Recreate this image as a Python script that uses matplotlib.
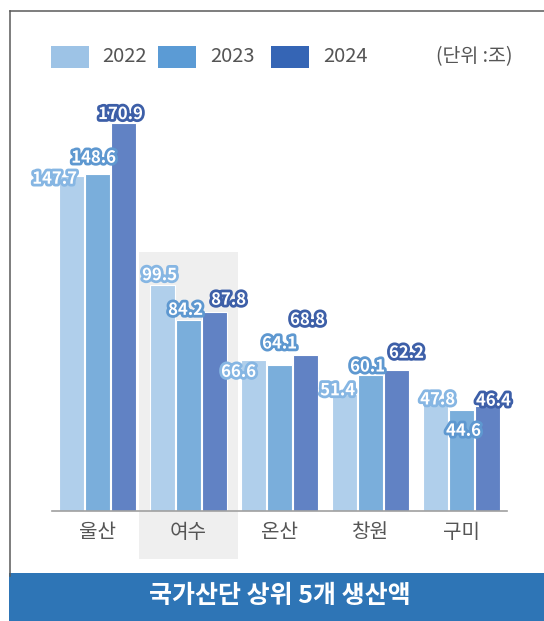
import matplotlib
matplotlib.use("Agg")
import matplotlib.pyplot as plt
import matplotlib.patheffects as pe
from matplotlib.patches import Rectangle
from matplotlib.lines import Line2D
import numpy as np

plt.rcParams['font.family'] = ['Noto Sans CJK KR', 'DejaVu Sans']

# data
categories = ["울산", "여수", "온산", "창원", "구미"]
years = ["2022", "2023", "2024"]
v2022 = [147.7, 99.5, 66.6, 51.4, 47.8]
v2023 = [148.6, 84.2, 64.1, 60.1, 44.6]
v2024 = [170.9, 87.8, 68.8, 62.2, 46.4]
series = [v2022, v2023, v2024]

title = "국가산단 상위 5개 생산액"
unit = "(단위 :조)"

# styles
legend_colors = ["#9dc3e6", "#5b9bd5", "#3565b5"]
bar_colors = ["#b0cfeb", "#7aaedb", "#6182c4"]
stroke_colors = ["#86b6e3", "#5e98d0", "#3d5fa8"]

# label offsets in pixels (dx, dy) per series, per category
label_offsets = [
    [(-17, -3), (-3, 10), (-15, -12), (-7, 4), (2, 3)],
    [(-4, 16), (-3, 10), (0, 22), (-3, 8), (2, -21)],
    [(-3, 9), (14, 12), (2, 35), (10, 17), (6, 5)],
]

W, H = 544, 621
fig = plt.figure(figsize=(W / 100, H / 100), dpi=100)


def fx(px):
    return px / W


def fy(py):
    return 1 - py / H


# plot area: baseline at y=511px, 2.27 px per unit
ax_top, ax_bot = 80, 511
scale = 2.27
ax = fig.add_axes([fx(52), fy(ax_bot), fx(507) - fx(52), (ax_bot - ax_top) / H])
ax.set_facecolor("none")
ax.set_xlim(-0.5, 4.5)
ax.set_ylim(0, (ax_bot - ax_top) / scale)

x = np.arange(len(categories))
offs = [-0.285, 0, 0.285]
width = 0.27

# highlight behind 여수
hl = Rectangle((1 - 0.545, -48 / scale), 1.09, (559 - 251.5) / scale,
               facecolor="#efefef", edgecolor="none", zorder=0, clip_on=False)
ax.add_patch(hl)

for i, vals in enumerate(series):
    ax.bar(x + offs[i], vals, width, color=bar_colors[i], edgecolor="white",
           linewidth=0.8, zorder=2)

for i, vals in enumerate(series):
    for j, v in enumerate(vals):
        dx, dy = label_offsets[i][j]
        ax.annotate(f"{v}", xy=(x[j] + offs[i], v), xytext=(dx, dy),
                    textcoords="offset pixels", ha="center", va="center",
                    fontsize=12, fontweight="bold", color="white", zorder=5,
                    path_effects=[pe.withStroke(linewidth=4, foreground=stroke_colors[i])])

for s in ["top", "left", "right"]:
    ax.spines[s].set_visible(False)
ax.spines["bottom"].set_color("#a0a0a0")
ax.spines["bottom"].set_linewidth(1.2)
ax.set_yticks([])
ax.set_xticks(x)
ax.set_xticklabels(categories, fontsize=14.5, color="#555555")
ax.tick_params(axis="x", length=0, pad=8)

# frame
fig.add_artist(Line2D([fx(9.5), fx(9.5)], [fy(10.5), fy(576)], color="#5a5a5a", lw=1.1))
fig.add_artist(Line2D([fx(9.5), 1], [fy(10.5), fy(10.5)], color="#5a5a5a", lw=1.1))

# legend
sq_x = [51, 158, 271]
tx_x = [102, 210, 323]
for i, yr in enumerate(years):
    fig.add_artist(Rectangle((fx(sq_x[i]), fy(68)), fx(38), 22 / H,
                             facecolor=legend_colors[i], edgecolor="none"))
    fig.text(fx(tx_x[i]), fy(57), yr, fontsize=14.5, color="#555555",
             ha="left", va="center")
fig.text(fx(512), fy(57), unit, fontsize=14, color="#555555", ha="right", va="center")

# title band
fig.add_artist(Rectangle((fx(9), 0), 1 - fx(9), (H - 573) / H,
                         facecolor="#2e75b6", edgecolor="none"))
fig.text(fx(280), fy(596), title, fontsize=18, fontweight="bold",
         color="white", ha="center", va="center")

fig.savefig("out.png", dpi=100)
